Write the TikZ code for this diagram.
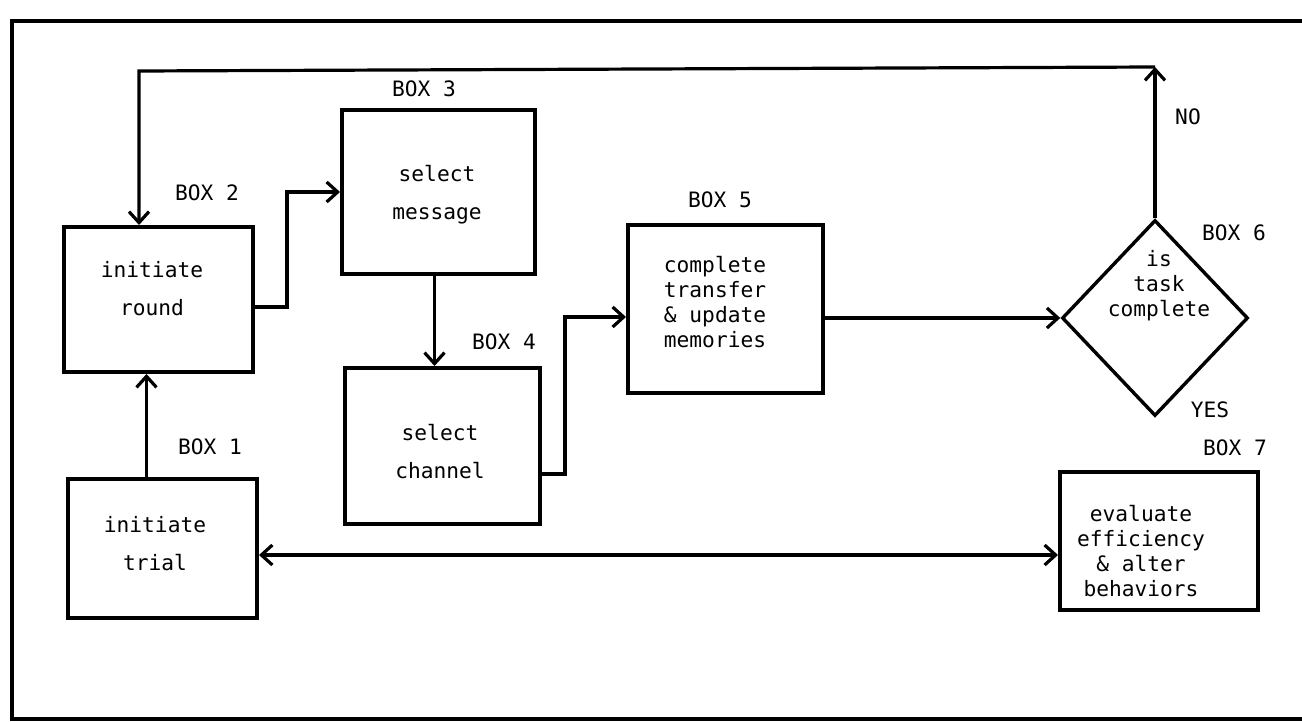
\documentclass[tikz,border=0pt]{standalone}
\usepackage{fontspec}
\setmonofont{DejaVu Sans Mono}
\usetikzlibrary{shapes.geometric,arrows.meta}
\begin{document}
\begin{tikzpicture}[x=0.5pt,y=-0.5pt,
  font=\ttfamily\fontsize{10.6}{12}\selectfont,
  stepbox/.style={draw, line width=2pt, inner sep=0pt},
  txt/.style={align=center, inner sep=0pt, font=\ttfamily\fontsize{10.6}{19}\selectfont},
  txtsm/.style={align=center, inner sep=0pt, font=\ttfamily\fontsize{10.6}{12.5}\selectfont},
  lbl/.style={inner sep=0pt},
  conn/.style={line width=1.6pt, -{Straight Barb[length=5.5pt,width=10pt,line width=1.6pt]}},
  dconn/.style={line width=1.6pt, {Straight Barb[length=5.5pt,width=10pt,line width=1.6pt]}-{Straight Barb[length=5.5pt,width=10pt,line width=1.6pt]}},
  frame/.style={line width=1.7pt}
]
\useasboundingbox (0,0) rectangle (1302,722);

% outer frame
\coordinate (fr1) at (1302,21);
\coordinate (fr2) at (12,21);
\coordinate (fr3) at (12,719);
\coordinate (fr4) at (1302,719);
\draw[frame] (fr1) -- (fr2) -- (fr3) -- (fr4);

% boxes
\node[stepbox, minimum width=94.5pt, minimum height=69.5pt] (b1) at (162.5,548.5) {};
\node[stepbox, minimum width=94.5pt, minimum height=72.5pt] (b2) at (158.5,299.5) {};
\node[stepbox, minimum width=96.5pt, minimum height=82pt] (b3) at (438.5,192) {};
\node[stepbox, minimum width=97.5pt, minimum height=78pt] (b4) at (442.5,446) {};
\node[stepbox, minimum width=97.5pt, minimum height=84pt] (b5) at (725.5,309) {};
\node[diamond, draw, line width=1.7pt, inner sep=0pt, minimum width=93pt, minimum height=98pt] (d6) at (1155,318) {};
\node[stepbox, minimum width=99pt, minimum height=69pt] (b7) at (1159,541) {};

% box texts
\node[txt] (t1) at (155,544) {initiate\\trial};
\node[txt] (t2) at (152,289) {initiate\\round};
\node[txt] (t3) at (437,195) {select\\message};
\node[txt] (t4) at (440,452) {select\\channel};
\node[txtsm] (t5) at (715,302) {complete\\transfer\\\& update\\memories};
\node[txtsm] (t6) at (1159,286) {is\\task\\complete};
\node[txtsm] (t7) at (1141,551) {evaluate\\efficiency\\\& alter\\behaviors};

% box labels
\node[lbl] (l1) at (210,447) {BOX 1};
\node[lbl] (l2) at (207,193) {BOX 2};
\node[lbl] (l3) at (424,89) {BOX 3};
\node[lbl] (l4) at (504,342) {BOX 4};
\node[lbl] (l5) at (720,200) {BOX 5};
\node[lbl] (l6) at (1234,233) {BOX 6};
\node[lbl] (l7) at (1235,448) {BOX 7};
\node[lbl] (lno) at (1188,117) {NO};
\node[lbl] (lyes) at (1210,410) {YES};

% connectors
\draw[conn] ([xshift=-8pt]b1.north) -- ([xshift=-8pt]b1.north |- b2.south);
\coordinate (c23) at (287,192);
\draw[conn] ([yshift=-3.75pt]b2.east) -| (c23) -- (b3.west);
\draw[conn] ([xshift=-2pt]b3.south) -- ([xshift=-2pt]b3.south |- b4.north);
\coordinate (c45) at (565,317);
\draw[conn] ([yshift=-14pt]b4.east) -| (c45) -- (c45 -| b5.west);
\draw[conn] (b5.east |- d6.west) -- (d6.west);
\coordinate (ctr) at (1155,67);
\coordinate (ctl) at (139,71);
\draw[conn] (d6.north) -- (ctr);
\draw[conn] (ctr) -- (ctl) -- (ctl |- b2.north);
\coordinate (c17) at (0,555);
\draw[dconn] (b1.east |- c17) -- (b7.west |- c17);
\end{tikzpicture}
\end{document}
